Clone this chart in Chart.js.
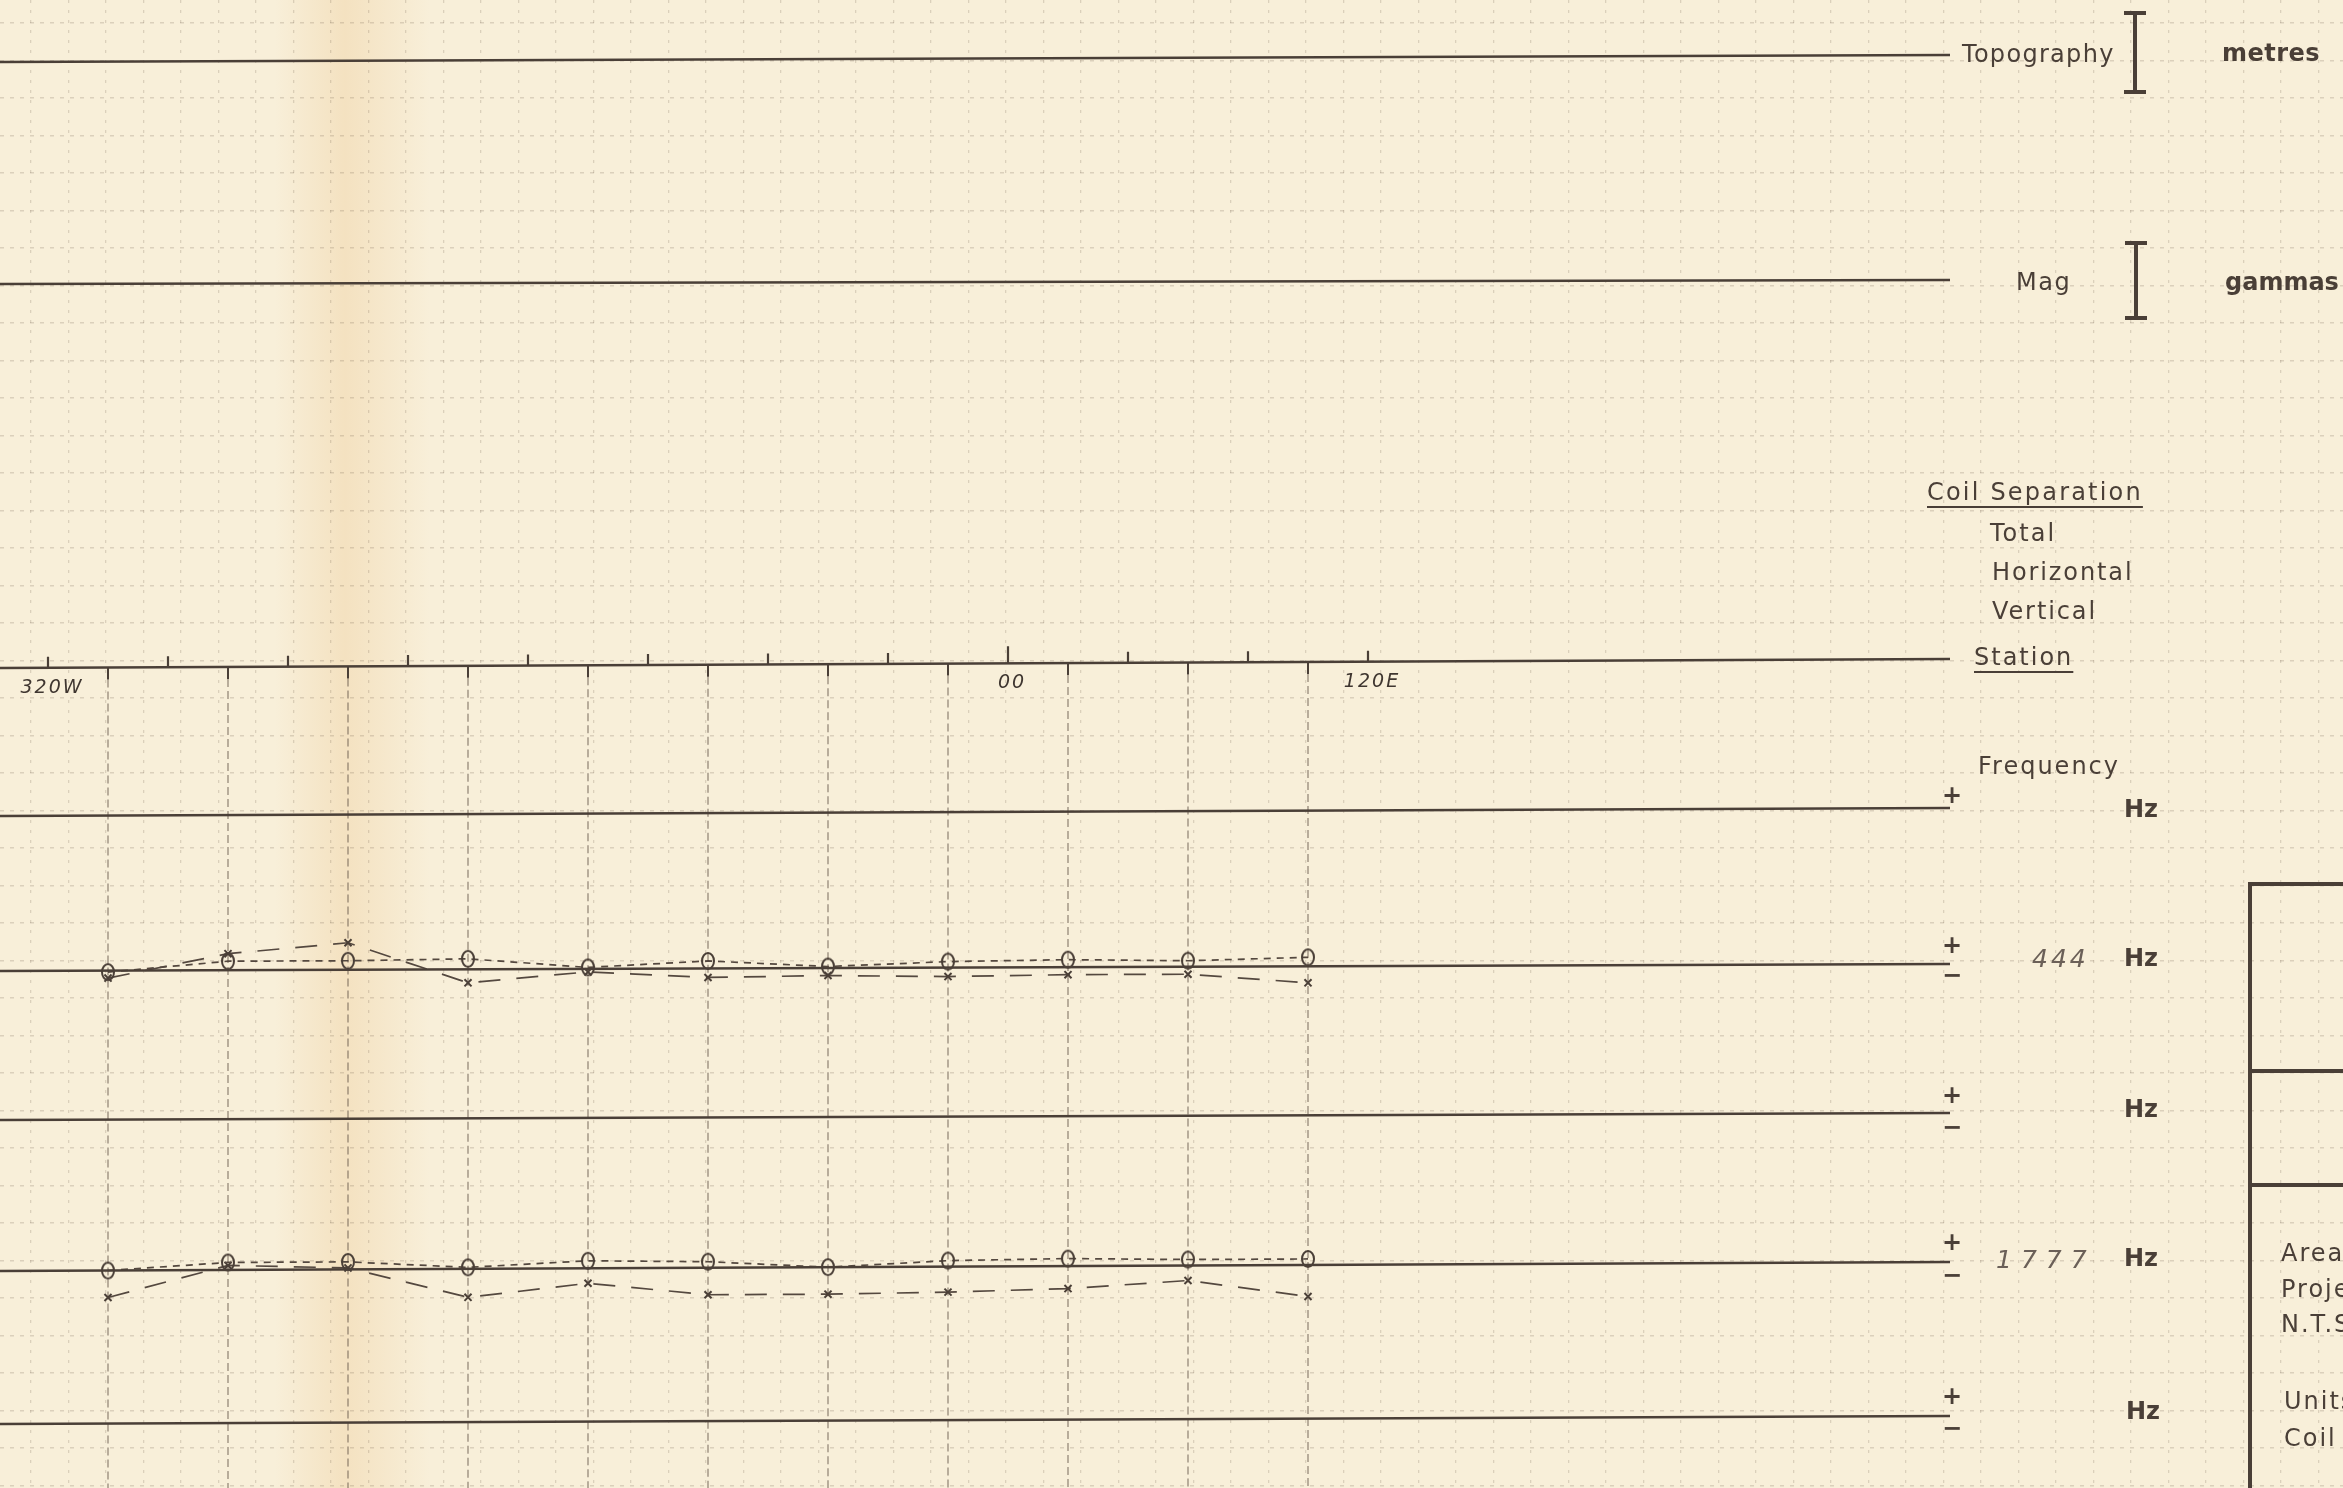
<!DOCTYPE html>
<html>
<head>
<meta charset="utf-8">
<title>EM profile - 444 / 1777 Hz</title>
<script src="https://cdn.jsdelivr.net/npm/chart.js@4.4.1/dist/chart.umd.min.js"></script>
<style>
  html, body { margin: 0; padding: 0; background: #f8efd9; overflow: hidden; }
  canvas { display: block; }
</style>
</head>
<body>
<canvas id="profile" width="2343" height="1488"></canvas>
<script>
// stations (W negative, E positive)
const stations = [-300, -260, -220, -180, -140, -100, -60, -20, 20, 60, 100];
// chainage ticks on the station line
const stationTicks = [-320, -280, -240, -200, -160, -120, -80, -40, 0, 40, 80, 120];
const stationTickLabels = ["320W", "", "", "", "", "", "", "", "00", "", "", "120E"];

// 444 Hz readings (%), o = circles, x = crosses
const hz444Circles = [-0.5, 3, 3, 3.5, 0.5, 2.5, 0.5, 2, 2.5, 2, 3];
const hz444Crosses = [-2.5, 5.5, 9, -4.5, -1, -3, -2.5, -3, -2.5, -2.5, -5.5];
// 1777 Hz readings (%)
const hz1777Circles = [0, 2.5, 2.5, 0.5, 2.5, 2, 0, 2, 2.5, 2, 2];
const hz1777Crosses = [-9, 1.5, 0.5, -9.5, -5, -9, -9, -8.5, -7.5, -5, -10.5];

// ---- layout ----
const W = 2343, H = 1488;
const X_MIN = -336, X_MAX = X_MIN + W / 3;   // 3 px per metre
const LINE_END = 314;                        // where the profile lines stop
const PX_PER_PCT = 3;
const INK = "#4a3f37";
const GRID = "rgba(120,100,80,0.22)";

// profile base lines: [y at left edge, y at line end] (the sheet is a bit skewed)
const baseLines = {
  topo:    [62, 55],
  mag:     [284, 280],
  station: [668, 659],
  freq1:   [816, 808],
  f444:    [971, 964],
  freq3:   [1120, 1113],
  f1777:   [1271, 1262],
  freq5:   [1424, 1416]
};

function baseAt(line, x) {
  const [a, b] = baseLines[line];
  return a + (b - a) * (x - X_MIN) / (LINE_END - X_MIN);
}

function ring(w, h, lw) {
  const c = document.createElement("canvas");
  c.width = w + lw * 2 + 2;
  c.height = h + lw * 2 + 2;
  const g = c.getContext("2d");
  g.strokeStyle = INK;
  g.lineWidth = lw;
  g.beginPath();
  g.ellipse(c.width / 2, c.height / 2, w / 2, h / 2, 0, 0, Math.PI * 2);
  g.stroke();
  return c;
}
const ringStyle = ring(12, 16, 2);

// ---- datasets ----
const datasets = [];

Object.keys(baseLines).forEach(k => {
  datasets.push({
    data: [{ x: X_MIN, y: baseLines[k][0] }, { x: LINE_END, y: baseLines[k][1] }],
    borderColor: INK, borderWidth: 2.6, pointRadius: 0
  });
});

// ticks above station line
const tickPts = [];
stationTicks.forEach(t => {
  const y0 = baseAt("station", t);
  tickPts.push({ x: t, y: y0 }, { x: t, y: y0 - (t === 0 ? 17 : 11) }, { x: t, y: null });
});
datasets.push({ data: tickPts, borderColor: INK, borderWidth: 2.2, pointRadius: 0, spanGaps: false });

// station verticals below the line
const stubPts = [], dropPts = [];
stations.forEach(s => {
  const y0 = baseAt("station", s);
  stubPts.push({ x: s, y: y0 }, { x: s, y: y0 + 12 }, { x: s, y: null });
  dropPts.push({ x: s, y: y0 + 12 }, { x: s, y: H }, { x: s, y: null });
});
datasets.push({ data: stubPts, borderColor: INK, borderWidth: 2, pointRadius: 0, spanGaps: false });
datasets.push({ data: dropPts, borderColor: "rgba(80,66,56,0.55)", borderWidth: 1.4,
  borderDash: [8, 4], pointRadius: 0, spanGaps: false });

function profile(line, values, kind) {
  const pts = stations.map((s, i) => ({ x: s, y: baseAt(line, s) - values[i] * PX_PER_PCT }));
  const circle = kind === "o";
  return {
    data: pts,
    borderColor: "#54483f",
    borderWidth: 1.7,
    borderDash: circle ? [7, 6] : [22, 16],
    pointStyle: circle ? ringStyle : "crossRot",
    pointRadius: circle ? 8 : 5,
    pointBorderColor: INK,
    pointBorderWidth: 2,
    pointBackgroundColor: "rgba(0,0,0,0)",
    tension: 0
  };
}
datasets.push(profile("f444", hz444Circles, "o"));
datasets.push(profile("f444", hz444Crosses, "x"));
datasets.push(profile("f1777", hz1777Circles, "o"));
datasets.push(profile("f1777", hz1777Crosses, "x"));

// ---- annotation text (page px) ----
const FONT = "'DejaVu Sans', sans-serif";
const texts = [
  { t: "Topography", x: 1962, y: 56, f: "24px", ls: 1.3 },
  { t: "metres", x: 2222, y: 55, f: "bold 24px", ls: 0.5 },
  { t: "Mag", x: 2016, y: 284, f: "24px", ls: 1.5 },
  { t: "gammas", x: 2225, y: 284, f: "bold 24px", ls: 0 },
  { t: "Coil Separation", x: 1927, y: 494, f: "24px", ls: 2.2, u: true },
  { t: "Total", x: 1990, y: 535, f: "24px", ls: 2 },
  { t: "Horizontal", x: 1992, y: 574, f: "24px", ls: 1.9 },
  { t: "Vertical", x: 1992, y: 613, f: "24px", ls: 1.9 },
  { t: "Station", x: 1974, y: 659, f: "24px", ls: 2, u: true },
  { t: "Frequency", x: 1978, y: 768, f: "24px", ls: 2 },
  { t: "Hz", x: 2124, y: 811, f: "bold 24px", ls: 0 },
  { t: "444", x: 2032, y: 960, f: "italic 25px", ls: 3, c: "#6b6058" },
  { t: "Hz", x: 2124, y: 960, f: "bold 24px", ls: 0 },
  { t: "Hz", x: 2124, y: 1111, f: "bold 24px", ls: 0 },
  { t: "1777", x: 1996, y: 1261, f: "italic 25px", ls: 9, c: "#6b6058" },
  { t: "Hz", x: 2124, y: 1260, f: "bold 24px", ls: 0 },
  { t: "Hz", x: 2126, y: 1413, f: "bold 24px", ls: 0 },
  { t: "Area", x: 2281, y: 1255, f: "24px", ls: 2 },
  { t: "Project", x: 2281, y: 1291, f: "24px", ls: 2 },
  { t: "N.T.S.", x: 2281, y: 1326, f: "24px", ls: 2 },
  { t: "Units", x: 2284, y: 1403, f: "24px", ls: 2 },
  { t: "Coil", x: 2284, y: 1440, f: "24px", ls: 2 }
];
const signs = [
  { t: "+", y: 797 }, { t: "+", y: 947 }, { t: "\u2212", y: 977 },
  { t: "+", y: 1097 }, { t: "\u2212", y: 1129 }, { t: "+", y: 1244 },
  { t: "\u2212", y: 1277 }, { t: "+", y: 1398 }, { t: "\u2212", y: 1430 }
];

const paper = {
  id: "paper",
  beforeDraw(chart) {
    const { ctx } = chart;
    ctx.save();
    ctx.fillStyle = "#f8efd9";
    ctx.fillRect(0, 0, chart.width, chart.height);
    const g = ctx.createLinearGradient(275, 0, 430, 0);
    g.addColorStop(0, "rgba(240,212,168,0)");
    g.addColorStop(0.45, "rgba(240,212,168,0.5)");
    g.addColorStop(1, "rgba(240,212,168,0)");
    ctx.fillStyle = g;
    ctx.fillRect(275, 0, 155, chart.height);
    ctx.restore();
  },
  afterDraw(chart) {
    const { ctx, chartArea: a } = chart;
    const xs = chart.scales.x;
    ctx.save();
    ctx.translate(a.left, a.top);
    ctx.strokeStyle = INK;
    ctx.fillStyle = INK;

    // scale brackets
    [[2135, 13, 92], [2136, 243, 318]].forEach(([x, y1, y2]) => {
      ctx.lineWidth = 4;
      ctx.beginPath();
      ctx.moveTo(x, y1); ctx.lineTo(x, y2);
      ctx.moveTo(x - 11, y1); ctx.lineTo(x + 11, y1);
      ctx.moveTo(x - 11, y2); ctx.lineTo(x + 11, y2);
      ctx.stroke();
    });

    // title block frame
    ctx.lineWidth = 4;
    ctx.beginPath();
    ctx.moveTo(2250, 884); ctx.lineTo(2250, H);
    [884, 1071, 1185].forEach(y => { ctx.moveTo(2248, y); ctx.lineTo(W, y); });
    ctx.stroke();

    ctx.textBaseline = "middle";
    ctx.textAlign = "left";
    texts.forEach(o => {
      ctx.font = o.f + " " + FONT;
      ctx.letterSpacing = o.ls + "px";
      ctx.fillStyle = o.c || INK;
      ctx.fillText(o.t, o.x, o.y);
      if (o.u) {
        const w = ctx.measureText(o.t).width;
        ctx.lineWidth = 2;
        ctx.beginPath();
        ctx.moveTo(o.x, o.y + 13); ctx.lineTo(o.x + w, o.y + 13);
        ctx.stroke();
      }
    });

    ctx.letterSpacing = "0px";
    ctx.fillStyle = INK;
    ctx.textAlign = "center";
    ctx.font = "bold 24px " + FONT;
    signs.forEach(s => ctx.fillText(s.t, 1952, s.y));
    ctx.restore();

    // station labels, placed through the x scale
    ctx.save();
    ctx.fillStyle = "#3f3630";
    ctx.font = "italic 19px " + FONT;
    ctx.letterSpacing = "2px";
    ctx.textAlign = "center";
    ctx.textBaseline = "middle";
    stationTicks.forEach((t, i) => {
      if (!stationTickLabels[i]) return;
      ctx.fillText(stationTickLabels[i], xs.getPixelForValue(t) + 4, baseAt("station", t) + 20);
    });
    ctx.restore();
  }
};

// graph-paper rulings
const gridX = [], gridY = [];
for (let v = X_MIN + 31 / 3; v < X_MAX; v += 12.5) gridX.push(v);
for (let v = 23; v < H; v += 37.5) gridY.push(v);

new Chart(document.getElementById("profile"), {
  type: "line",
  data: { datasets },
  options: {
    responsive: false,
    animation: false,
    events: [],
    layout: { padding: 0, autoPadding: false },
    plugins: { legend: { display: false }, tooltip: { enabled: false } },
    scales: {
      x: {
        type: "linear", min: X_MIN, max: X_MAX,
        ticks: { display: false },
        border: { display: false, dash: [3, 7] },
        grid: { color: GRID, lineWidth: 1.3, drawTicks: false },
        afterBuildTicks: s => { s.ticks = gridX.map(v => ({ value: v })); }
      },
      y: {
        type: "linear", min: 0, max: H, reverse: true,
        ticks: { display: false },
        border: { display: false, dash: [4, 6] },
        grid: { color: GRID, lineWidth: 1.4, drawTicks: false },
        afterBuildTicks: s => { s.ticks = gridY.map(v => ({ value: v })); }
      }
    }
  },
  plugins: [paper]
});
</script>
</body>
</html>
